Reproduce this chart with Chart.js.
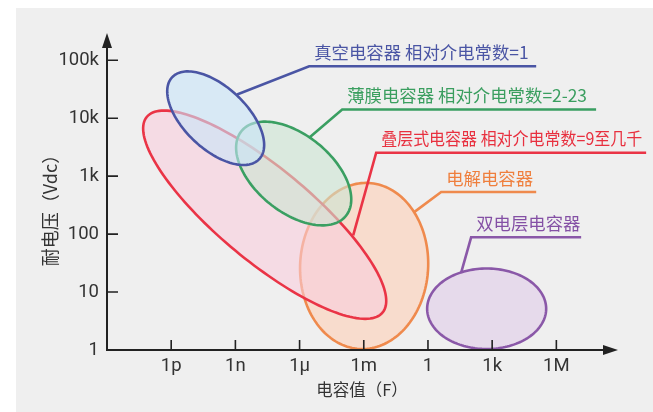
<!DOCTYPE html>
<html>
<head>
<meta charset="utf-8">
<script src="https://cdn.jsdelivr.net/npm/chart.js@4"></script>
<style>
  body { margin: 0; background: #fff; }
  canvas { display: block; }
</style>
</head>
<body>
<canvas id="myChart" width="653" height="412"></canvas>
<script>
// tick values and labels
const xTicks = [1e-12, 1e-9, 1e-6, 1e-3, 1, 1e3, 1e6];
const xTickLabels = ['1p', '1n', '1μ', '1m', '1', '1k', '1M'];
const yTicks = [1, 10, 100, 1e3, 1e4, 1e5];
const yTickLabels = ['1', '10', '100', '1k', '10k', '100k'];

// capacitor families (in draw order, bottom first)
const capNames = ['电解电容器', '叠层式电容器 相对介电常数=9至几千', '薄膜电容器 相对介电常数=2-23', '真空电容器 相对介电常数=1', '双电层电容器'];
// ellipse: centre, end of major axis, end of minor axis (capacitance F, voltage Vdc)
const centerC = [1.04e-3, 2.34e-8, 5.3e-7, 1.2e-10, 553];
const centerV = [28.2, 216, 1110, 1.0e4, 5.15];
const majorEndC = [1.7e-3, 7.2e-14, 1.9e-9, 1.1e-12, 3.34e5];
const majorEndV = [762, 1.05e4, 5950, 5.07e4, 5.15];
const minorEndC = [1.01, 9.9e-10, 4.0e-8, 1.23e-11, 553];
const minorEndV = [24.5, 51.9, 336, 4040, 1.04];
// callout leaders
const attachC = [0.226, 3.2e-4, 2.8e-6, 1.2e-9, 35.6];
const attachV = [239, 95, 4600, 2.57e4, 21.7];
const elbowC = [4.14, 3.8e-3, 9.8e-5, 2.8e-6, 104];
const elbowV = [532, 2530, 1.41e4, 7.87e4, 88];
const lineEndC = [1.14e5, 1.57e10, 7.2e7, 1.14e5, 1.44e7];

const strokeColors = ['#ef8a4d', '#ea3446', '#3a9f62', '#4a55a4', '#8a58a8'];
const fillColors = ['rgba(254,207,182,0.6)', 'rgba(249,205,220,0.6)', 'rgba(204,229,210,0.6)', 'rgba(200,229,248,0.6)', 'rgba(224,204,231,0.6)'];
const textColors = ['#ef7f3d', '#e8303f', '#3a9e5f', '#4a55a4', '#8450a5'];
const textMaxWidth = [200, 261, 260, 220, 200];

const tickFont = 'Roboto, sans-serif';
const cjkFont = '"Noto Sans CJK SC", sans-serif';
const axisColor = '#222';

const drawPlugin = {
    id: 'capMap',
    beforeDraw(chart) {
        const ctx = chart.ctx;
        ctx.save();
        ctx.fillStyle = '#fff';
        ctx.fillRect(0, 0, chart.width, chart.height);
        ctx.fillStyle = '#efefef';
        ctx.fillRect(16, 8, chart.width - 16, chart.height - 8);
        ctx.restore();
    },
    afterDatasetsDraw(chart) {
        const ctx = chart.ctx;
        const xs = chart.scales.x, ys = chart.scales.y;
        const px = v => xs.getPixelForValue(v);
        const py = v => ys.getPixelForValue(v);
        const area = chart.chartArea;
        ctx.save();

        // ellipses
        capNames.forEach((name, i) => {
            const cx = px(centerC[i]), cy = py(centerV[i]);
            const ax = px(majorEndC[i]) - cx, ay = py(majorEndV[i]) - cy;
            const bx = px(minorEndC[i]) - cx, by = py(minorEndV[i]) - cy;
            ctx.beginPath();
            for (let k = 0; k <= 160; k++) {
                const t = k / 160 * Math.PI * 2;
                const x = cx + Math.cos(t) * ax + Math.sin(t) * bx;
                const y = cy + Math.cos(t) * ay + Math.sin(t) * by;
                if (k === 0) ctx.moveTo(x, y); else ctx.lineTo(x, y);
            }
            ctx.closePath();
            ctx.fillStyle = fillColors[i];
            ctx.fill();
            ctx.lineWidth = 2.6;
            ctx.strokeStyle = strokeColors[i];
            ctx.stroke();
        });

        // callouts
        capNames.forEach((name, i) => {
            const ex = px(elbowC[i]), ey = py(elbowV[i]);
            ctx.beginPath();
            ctx.moveTo(px(attachC[i]), py(attachV[i]));
            ctx.lineTo(ex, ey);
            ctx.lineTo(px(lineEndC[i]), ey);
            ctx.lineWidth = 2.6;
            ctx.strokeStyle = strokeColors[i];
            ctx.lineJoin = 'miter';
            ctx.stroke();
            ctx.font = '17.4px ' + cjkFont;
            ctx.fillStyle = textColors[i];
            ctx.textAlign = 'left';
            ctx.textBaseline = 'middle';
            ctx.fillText(name, ex + 5, ey - 14, textMaxWidth[i]);
        });

        // axes with inside ticks and arrows
        ctx.strokeStyle = axisColor;
        ctx.fillStyle = axisColor;
        ctx.lineWidth = 2;
        ctx.beginPath();
        ctx.moveTo(area.left, area.top + 10);
        ctx.lineTo(area.left, area.bottom);
        ctx.lineTo(area.right - 10, area.bottom);
        ctx.stroke();
        ctx.beginPath();
        ctx.moveTo(area.left, area.top);
        ctx.lineTo(area.left - 5, area.top + 15);
        ctx.lineTo(area.left + 5, area.top + 15);
        ctx.closePath();
        ctx.fill();
        ctx.beginPath();
        ctx.moveTo(area.right, area.bottom);
        ctx.lineTo(area.right - 15, area.bottom - 5);
        ctx.lineTo(area.right - 15, area.bottom + 5);
        ctx.closePath();
        ctx.fill();
        ctx.lineWidth = 1.6;
        ctx.beginPath();
        xTicks.forEach(v => {
            ctx.moveTo(px(v), area.bottom);
            ctx.lineTo(px(v), area.bottom - 10);
        });
        yTicks.slice(1).forEach(v => {
            ctx.moveTo(area.left, py(v));
            ctx.lineTo(area.left + 11, py(v));
        });
        ctx.stroke();

        // axis titles
        ctx.fillStyle = '#333';
        ctx.textAlign = 'center';
        ctx.textBaseline = 'middle';
        ctx.font = '16.5px ' + cjkFont;
        ctx.fillText('电容值（F）', 362, 390);
        ctx.font = '18px ' + cjkFont;
        ctx.translate(50, 206);
        ctx.rotate(-Math.PI / 2);
        ctx.fillText('耐电压（Vdc）', 0, 0);
        ctx.restore();
    }
};

const ctx = document.getElementById('myChart').getContext('2d');
const chart = new Chart(ctx, {
    type: 'scatter',
    data: { datasets: [{ data: [] }] },
    options: {
        responsive: false,
        animation: false,
        events: [],
        layout: { padding: { left: 0, top: 33, right: 35, bottom: 0 } },
        plugins: {
            legend: { display: false },
            tooltip: { enabled: false }
        },
        scales: {
            x: {
                type: 'logarithmic',
                min: 1e-15,
                max: 7.6e8,
                grid: { display: false, drawTicks: false },
                border: { display: false },
                afterBuildTicks: scale => { scale.ticks = xTicks.map(v => ({ value: v })); },
                afterFit: scale => { scale.height = 62; },
                ticks: {
                    autoSkip: false,
                    maxRotation: 0,
                    padding: 5,
                    color: '#333',
                    font: { family: tickFont, size: 18.5 },
                    callback: (v, i) => xTickLabels[i]
                }
            },
            y: {
                type: 'logarithmic',
                min: 1,
                max: 2.95e5,
                grid: { display: false, drawTicks: false },
                border: { display: false },
                afterBuildTicks: scale => { scale.ticks = yTicks.map(v => ({ value: v })); },
                afterFit: scale => { scale.width = 107; },
                ticks: {
                    autoSkip: false,
                    padding: 8,
                    color: '#333',
                    font: { family: tickFont, size: 18.5 },
                    callback: (v, i) => yTickLabels[i]
                }
            }
        }
    },
    plugins: [drawPlugin]
});
</script>
</body>
</html>
